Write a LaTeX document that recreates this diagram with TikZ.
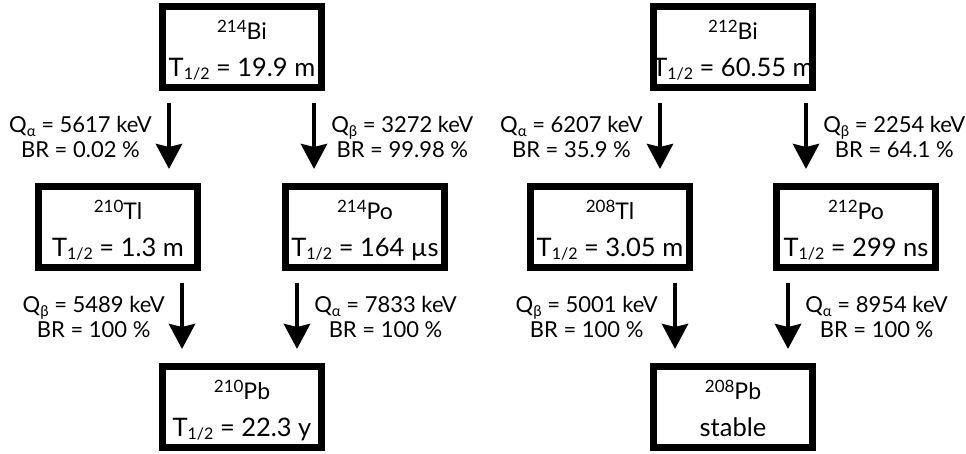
\documentclass[tikz,border=0pt]{standalone}
\usepackage{fontspec}
\setmainfont{Lato}
\usetikzlibrary{arrows.meta}
\newcommand\isosup[1]{\raisebox{7pt}{\fontsize{17}{17}\selectfont #1}}
\newcommand\halfsub{\raisebox{-3pt}{\fontsize{16}{16}\selectfont 1/2}}
\newcommand\qsub[1]{\raisebox{-4pt}{\fontsize{15}{15}\selectfont #1}}
\begin{document}
\begin{tikzpicture}[x=1pt,y=-1pt,
  nbox/.style={draw, line width=7pt, minimum width=159pt, minimum height=81pt, inner sep=0pt},
  iso/.style={anchor=base, font=\fontsize{23}{25}\selectfont, inner sep=0pt},
  half/.style={anchor=base, font=\fontsize{25.5}{28}\selectfont, inner sep=0pt},
  lab/.style={align=center, font=\fontsize{22}{25}\selectfont, inner sep=0pt},
  labl/.style={lab, anchor=east, xshift=-15pt},
  labr/.style={lab, anchor=west, xshift=15pt},
  decay/.style={line width=4.5pt, -{Stealth[length=25pt,width=26pt,inset=3pt]}, shorten <=12pt, shorten >=14pt},
]
\useasboundingbox (0,0) rectangle (966,453);

% left chain
\node[nbox] (bi214) at (242,47) {};
\node[iso] (bi214a) at ([yshift=8pt]bi214.center) {\isosup{214}Bi};
\node[half] (bi214b) at ([yshift=-29pt]bi214.center) {T\halfsub{} = 19.9 m};

\node[nbox] (tl210) at (118,227) {};
\node[iso] (tl210a) at ([yshift=8pt]tl210.center) {\isosup{210}Tl};
\node[half] (tl210b) at ([yshift=-29pt]tl210.center) {T\halfsub{} = 1.3 m};

\node[nbox] (po214) at (365,227) {};
\node[iso] (po214a) at ([yshift=8pt]po214.center) {\isosup{214}Po};
\node[half] (po214b) at ([yshift=-29pt]po214.center) {T\halfsub{} = 164 µs};

\node[nbox] (pb210) at (242,407) {};
\node[iso] (pb210a) at ([yshift=8pt]pb210.center) {\isosup{210}Pb};
\node[half] (pb210b) at ([yshift=-29pt]pb210.center) {T\halfsub{} = 22.3 y};

% right chain
\node[nbox] (bi212) at (733,47) {};
\node[iso] (bi212a) at ([yshift=8pt]bi212.center) {\isosup{212}Bi};
\node[half] (bi212b) at ([yshift=-29pt]bi212.center) {T\halfsub{} = 60.55 m};

\node[nbox] (tl208) at (610,227) {};
\node[iso] (tl208a) at ([yshift=8pt]tl208.center) {\isosup{208}Tl};
\node[half] (tl208b) at ([yshift=-29pt]tl208.center) {T\halfsub{} = 3.05 m};

\node[nbox] (po212) at (856,227) {};
\node[iso] (po212a) at ([yshift=8pt]po212.center) {\isosup{212}Po};
\node[half] (po212b) at ([yshift=-29pt]po212.center) {T\halfsub{} = 299 ns};

\node[nbox] (pb208) at (733,407) {};
\node[iso] (pb208a) at ([yshift=8pt]pb208.center) {\isosup{208}Pb};
\node[half] (pb208b) at ([yshift=-29pt]pb208.center) {stable};

% decays, left chain
\draw[decay] ([xshift=10pt]bi214.south west) -- ([xshift=10pt]bi214.south west |- tl210.north)
  node[midway, labl] (l1) {Q\qsub{α} = 5617 keV\\BR = 0.02 \%};
\draw[decay] ([xshift=-11pt]bi214.south east) -- ([xshift=-11pt]bi214.south east |- po214.north)
  node[midway, labr] (l2) {Q\qsub{β} = 3272 keV\\BR = 99.98 \%};
\draw[decay] ([xshift=23pt]pb210.north west |- tl210.south) -- ([xshift=23pt]pb210.north west)
  node[midway, labl] (l5) {Q\qsub{β} = 5489 keV\\BR = 100 \%};
\draw[decay] ([xshift=-28pt]pb210.north east |- po214.south) -- ([xshift=-28pt]pb210.north east)
  node[midway, labr] (l6) {Q\qsub{α} = 7833 keV\\BR = 100 \%};

% decays, right chain
\draw[decay] ([xshift=10pt]bi212.south west) -- ([xshift=10pt]bi212.south west |- tl208.north)
  node[midway, labl] (l3) {Q\qsub{α} = 6207 keV\\BR = 35.9 \%};
\draw[decay] ([xshift=-10pt]bi212.south east) -- ([xshift=-10pt]bi212.south east |- po212.north)
  node[midway, labr] (l4) {Q\qsub{β} = 2254 keV\\BR = 64.1 \%};
\draw[decay] ([xshift=25pt]pb208.north west |- tl208.south) -- ([xshift=25pt]pb208.north west)
  node[midway, labl] (l7) {Q\qsub{β} = 5001 keV\\BR = 100 \%};
\draw[decay] ([xshift=-28pt]pb208.north east |- po212.south) -- ([xshift=-28pt]pb208.north east)
  node[midway, labr] (l8) {Q\qsub{α} = 8954 keV\\BR = 100 \%};
\end{tikzpicture}
\end{document}
